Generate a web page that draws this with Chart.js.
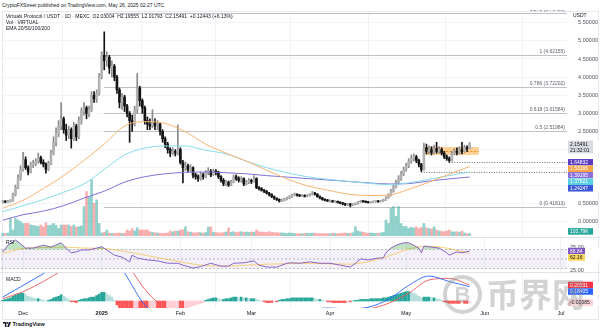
<!DOCTYPE html>
<html>
<head>
<meta charset="utf-8">
<script src="https://cdn.jsdelivr.net/npm/chart.js@4.4.1/dist/chart.umd.min.js"></script>
<style>
  html, body { margin: 0; padding: 0; width: 600px; height: 331px; overflow: hidden; background: #fff;
    font-family: "Liberation Sans", Arial, sans-serif; color: #131722; }
  canvas { position: absolute; left: 0; }
  .t { position: absolute; font-size: 5px; line-height: 6px; white-space: nowrap; color: #131722; }
  .sep { position: absolute; left: 0; width: 600px; height: 1px; background: #e0e3eb; }
  #frame { position: absolute; left: 2px; top: 11px; width: 595px; height: 307px; border: 1px solid #e6e8ee; }
  #wm-circle { position: absolute; left: 443px; top: 275px; width: 31px; height: 31px; border: 4px solid rgba(140,140,140,0.38);
    border-radius: 50%; color: rgba(140,140,140,0.38); font: 700 22px/31px "Liberation Sans", sans-serif; text-align: center; }
  #wm-text { position: absolute; left: 486px; top: 274px; font: 700 33px/38px "Noto Sans CJK SC", sans-serif; color: rgba(140,140,140,0.38); }
</style>
</head>
<body>
<div id="frame"></div>
<canvas id="price" width="600" height="227" style="top:10px"></canvas>
<canvas id="rsi" width="600" height="36" style="top:237px"></canvas>
<canvas id="macd" width="600" height="45" style="top:273px"></canvas>
<div class="sep" style="top:237px"></div>
<div class="sep" style="top:272px"></div>

<div class="t" style="left:2px;top:2px">CryptoFXStreet published on TradingView.com, May 26, 2025 02:27 UTC</div>
<div class="t" style="left:6px;top:13px">Virtuals Protocol / USDT · 1D · MEXC&nbsp;&nbsp;O2.03004&nbsp;&nbsp;H2.19555&nbsp;&nbsp;L2.01793&nbsp;&nbsp;C2.15491&nbsp;&nbsp;+0.12443 (+6.13%)</div>
<div class="t" style="left:6px;top:19px">Vol · VIRTUAL</div>
<div class="t" style="left:6px;top:25px">EMA 20/50/100/200</div>
<div class="t" style="left:6px;top:239px">RSI</div>
<div class="t" style="left:6px;top:276px">MACD</div>

<div id="wm-circle">B</div>
<div id="wm-text">币界网</div>

<div class="t" style="left:3px;top:321px;font-size:5.5px;font-weight:bold">
  <svg width="8" height="5" viewBox="0 0 8 5" style="vertical-align:-0.5px"><path d="M0 0h3.4v5H1.9V1.4H0z" fill="#131722"/><circle cx="4.5" cy="0.9" r="0.9" fill="#131722"/><path d="M6.1 0H8L6 5H4.2z" fill="#131722"/></svg>
  TradingView</div>

<script>
// ---- data (day 0 = 23 Nov 2024, one candle per day up to 26 May 2025) ----
const firstOpen = 0.55;
const closes = [0.56,0.55,0.57,0.58,0.75,0.95,1.2,1.45,1.72,1.5,
  1.38,1.58,1.62,1.68,1.78,1.65,1.6,1.45,1.62,1.9,
  2.2,2.45,2.65,2.85,2.55,2.4,2.55,2.3,2.65,2.35,
  2.8,3.05,3.15,3.0,3.1,3.5,3.4,3.55,4.0,4.6,
  4.45,4.55,4.25,4.3,4.0,3.65,3.3,3.45,3.2,3.0,
  2.8,2.7,3.1,3.7,3.35,3.15,2.8,2.7,2.65,2.75,
  2.65,2.7,2.5,2.3,2.15,2.0,1.9,1.95,1.9,2.0,
  1.65,1.5,1.55,1.45,1.5,1.3,1.25,1.2,1.3,1.25,
  1.35,1.4,1.3,1.4,1.38,1.25,1.15,1.05,1.1,1.02,
  1.1,1.25,1.2,1.15,1.2,1.05,1.1,1.15,1.12,1.2,
  0.95,0.92,0.88,0.85,0.8,0.76,0.7,0.65,0.62,0.58,
  0.6,0.63,0.66,0.7,0.74,0.77,0.74,0.72,0.73,0.71,
  0.73,0.76,0.8,0.77,0.7,0.66,0.62,0.6,0.58,0.58,
  0.56,0.57,0.54,0.52,0.5,0.48,0.5,0.47,0.49,0.5,
  0.55,0.57,0.56,0.55,0.54,0.55,0.56,0.57,0.56,0.58,
  0.6,0.67,0.75,0.85,0.97,1.1,1.2,1.32,1.45,1.55,
  1.68,1.75,1.8,1.7,1.6,1.45,2.05,1.95,2.0,1.92,
  2.02,1.95,2.0,1.9,1.8,1.75,1.7,1.88,1.95,1.92,
  2.0,1.95,2.05,2.03004,2.15491];
const highs = [0.6,0.59,0.6,0.62,0.8,1.02,1.3,1.55,1.92,1.8,
  1.55,1.65,1.7,1.75,1.9,1.82,1.72,1.63,1.68,1.98,
  2.35,2.6,2.8,3.3,2.9,2.7,2.65,2.6,2.75,2.7,
  2.9,3.15,3.3,3.2,3.2,3.6,3.6,3.65,4.1,4.7,
  5.25,4.7,4.6,4.45,4.35,4.05,3.7,3.55,3.5,3.25,
  3.05,2.95,3.2,4.1,3.75,3.4,3.2,2.9,2.85,3.1,
  2.85,2.8,2.75,2.55,2.35,2.2,2.05,2.05,2.0,2.68,
  2.05,1.7,1.65,1.6,1.58,1.52,1.35,1.3,1.38,1.35,
  1.42,1.5,1.45,1.46,1.45,1.4,1.28,1.2,1.15,1.13,
  1.15,1.3,1.3,1.25,1.25,1.22,1.15,1.2,1.18,1.28,
  1.22,0.98,0.95,0.9,0.87,0.82,0.78,0.72,0.67,0.64,
  0.63,0.66,0.69,0.73,0.77,0.8,0.78,0.76,0.76,0.75,
  0.76,0.79,0.84,0.82,0.78,0.72,0.68,0.64,0.62,0.61,
  0.6,0.59,0.58,0.56,0.54,0.52,0.52,0.51,0.51,0.53,
  0.57,0.6,0.59,0.58,0.57,0.57,0.58,0.59,0.59,0.6,
  0.63,0.7,0.78,0.9,1.02,1.15,1.28,1.4,1.52,1.62,
  1.75,1.85,1.88,1.84,1.74,1.62,2.18,2.15,2.1,2.08,
  2.12,2.2,2.08,2.05,1.95,1.85,1.8,1.95,2.02,2.05,
  2.08,2.2,2.12,2.1,2.19555];
const lows = [0.52,0.53,0.54,0.55,0.57,0.72,0.92,1.15,1.4,1.45,
  1.3,1.35,1.5,1.55,1.62,1.6,1.52,1.35,1.42,1.58,
  1.85,2.1,2.35,2.55,2.45,2.25,2.3,2.04,2.25,2.25,
  2.3,2.7,2.95,2.85,2.9,3.05,3.3,3.3,3.5,3.95,
  4.2,4.3,4.1,4.0,3.9,3.55,3.15,3.1,3.05,2.9,
  2.2,2.5,2.65,3.0,3.2,3.0,2.7,2.55,2.55,2.6,
  2.55,2.55,2.4,2.2,2.05,1.9,1.8,1.85,1.82,1.85,
  1.6,1.08,1.42,1.38,1.4,1.22,1.18,1.12,1.15,1.18,
  1.22,1.3,1.25,1.28,1.3,1.2,1.1,1.0,1.0,0.98,
  1.0,1.08,1.15,1.1,1.1,1.0,1.02,1.06,1.06,1.1,
  0.92,0.88,0.85,0.81,0.77,0.72,0.67,0.62,0.59,0.55,
  0.56,0.58,0.61,0.64,0.68,0.72,0.71,0.7,0.7,0.69,
  0.69,0.71,0.74,0.74,0.68,0.64,0.6,0.58,0.56,0.55,
  0.54,0.54,0.52,0.5,0.47,0.45,0.45,0.41813,0.45,0.47,
  0.49,0.53,0.54,0.53,0.52,0.52,0.53,0.54,0.54,0.55,
  0.56,0.59,0.65,0.72,0.82,0.94,1.05,1.15,1.28,1.4,
  1.5,1.62,1.68,1.64,1.52,1.39195,1.43,1.88,1.88,1.85,
  1.88,1.9,1.9,1.85,1.75,1.7,1.64832,1.68,1.85,1.85,
  1.88,1.88,1.92,1.95,2.01793];
// volume in thousands
const volumes = [110,100,120,700,240,710,640,570,500,500,
  510,440,420,400,380,440,370,530,420,440,
  500,430,300,440,440,440,440,380,440,350,
  370,400,1170,1770,1570,2240,1300,1440,500,120,
  150,240,110,100,100,110,120,100,110,240,
  200,300,200,330,240,240,240,240,170,150,
  130,120,110,100,110,120,200,170,190,200,
  240,250,370,170,150,130,120,150,130,120,
  140,360,360,150,130,130,120,140,160,320,
  150,170,140,160,170,150,160,140,160,150,
  240,170,160,150,140,170,150,130,140,120,
  130,110,100,120,110,100,90,100,90,100,
  110,100,120,110,100,90,100,90,100,90,
  110,100,90,100,110,120,110,100,130,370,
  200,170,150,130,110,120,110,100,110,120,
  150,640,500,1100,1170,780,1170,500,380,380,
  300,350,320,360,300,340,500,320,300,280,
  370,240,200,180,170,200,240,170,160,170,
  150,200,120,90,103.79];

const emaDays = [0,8,16,24,32,40,48,56,64,72,80,88,96,104,112,120,128,136,144,152,160,168,176,184];
const emaOrange = [0.38,0.6,0.92,1.28,1.7,2.15,2.65,2.77,2.72,2.49,2.15,1.9,1.68,1.43,1.19,1.0,0.88,0.77,0.73,0.74,0.9,1.1,1.32,1.53166];
const emaCyan = [0.28,0.45,0.62,0.82,1.05,1.45,1.85,2.04,2.1,2.1,1.98,1.88,1.68,1.5,1.36,1.25,1.18,1.12,1.07,1.03,1.08,1.18,1.28,1.37821];
const emaPurple = [0.05,0.2,0.3,0.45,0.66,0.85,1.1,1.25,1.33,1.37,1.38,1.36,1.33,1.28,1.24,1.2,1.16,1.12,1.08,1.05,1.06,1.13,1.19,1.24247];

const rsiDays = [0,2,5,7,9,12,16,19,23,25,27,29,31,34,37,39,41,44,47,50,51,53,57,61,65,69,71,75,78,82,86,89,91,95,99,101,104,108,112,114,117,121,125,129,133,137,139,141,144,148,150,151,153,155,158,160,162,164,165,166,169,172,175,176,179,181,184];
const rsiValues = [64.7,79,90,82,73,73,79,75,84,73,63,65,69,69,73,76,69,58,54,44,58,52,48,46,41,41,37,31,34,41,35,35,41,42,46,37,33,33,41,42,41,44,41,41,37,33,41,50,48,52,52,63,73,79,84,84,79,73,63,77,75,73,63,58,65,63,66.84];
const rsiMa = [62,72,74,75,73,72,66,58,50,42,36,35,37,39,40,41,40,39,44,56,71,77,72,62.16];

const macdLine = [0.05,0.2,0.35,0.5,0.62,0.72,0.36,-0.05,-0.2,-0.3,-0.32,-0.3,-0.25,-0.2,-0.16,-0.12,-0.09,-0.1,-0.08,0.02,0.2,0.32,0.25,0.18405];
const signalLine = [0.03,0.12,0.25,0.4,0.5,0.6,0.5,0.15,-0.1,-0.22,-0.28,-0.3,-0.28,-0.24,-0.2,-0.15,-0.12,-0.11,-0.1,-0.03,0.1,0.27,0.29,0.20531];
const macdHist = [0.01,0.02,0.03,0.04,0.06,0.08,0.09,0.1,0.1,0.08,
  0.06,0.05,0.04,0.03,0.03,0.02,0.01,0,0.01,0.02,
  0.04,0.05,0.06,0.08,0.06,0.04,0.02,-0.01,-0.01,-0.02,
  0.01,0.02,0.03,0.03,0.04,0.05,0.05,0.07,0.09,0.11,
  0.11,0.09,0.07,0.05,0.01,-0.05,-0.1,-0.12,-0.14,-0.16,
  -0.18,-0.19,-0.16,-0.12,-0.13,-0.15,-0.17,-0.18,-0.17,-0.15,
  -0.14,-0.15,-0.16,-0.17,-0.17,-0.16,-0.14,-0.12,-0.11,-0.1,
  -0.12,-0.13,-0.11,-0.09,-0.07,-0.06,-0.05,-0.04,-0.03,-0.02,
  0.01,0.02,0.03,0.04,0.04,0.03,0.02,0.02,0.03,0.03,
  0.04,0.05,0.05,0.04,0.05,0.04,0.04,0.03,0.03,0.03,
  0.02,0.01,0,-0.01,-0.02,-0.02,-0.02,-0.01,-0.01,0.01,
  0.02,0.02,0.03,0.03,0.04,0.04,0.04,0.04,0.04,0.04,
  0.04,0.04,0.04,0.03,0.02,0.02,0.01,0,-0.01,-0.01,
  -0.02,-0.02,-0.02,-0.02,-0.02,-0.02,-0.01,-0.01,0,0.01,
  0.01,0.02,0.02,0.02,0.02,0.03,0.03,0.03,0.03,0.03,
  0.04,0.04,0.05,0.06,0.07,0.08,0.09,0.1,0.11,0.12,
  0.12,0.11,0.1,0.08,0.06,0.04,0.05,0.05,0.05,0.04,
  0.04,0.03,0.02,0.01,-0.01,-0.02,-0.03,-0.03,-0.03,-0.03,
  -0.03,-0.02,-0.03,-0.03,-0.02085];

const monthDays = [8,39,70,98,129,159,190,220];
const monthLabels = ['Dec','2025','Feb','Mar','Apr','May','Jun','Jul'];
const priceTicks = [0,0.5,1,1.5,2,2.5,3,3.5,4,4.5,5,5.5];
const rsiTicks = [25,75];

// drawings on the chart
const fibLevels = ['1.272','1','0.786','0.618','0.5','0'];
const fibPrices = [5.76489,4.62155,3.72202,3.01584,2.51984,0.41813];
const fibStartDay = 40;
const levelPrices = [1.64832,1.39195];
const levelStartDays = [176,165];
const boxDays = [166.4,187.6];
const boxPrices = [1.85,2.07];
const lastVolumeText = '103.79K';
const countdown = '21:32:01';

// ---- setup ----
const FONT = '"Liberation Sans", Arial, sans-serif';
const xMin = -0.7, xMax = 222.4;
const days = closes.map((_, i) => i);
const opens = closes.map((c, i) => i === 0 ? firstOpen : closes[i - 1]);
const isUp = closes.map((c, i) => c >= opens[i]);
const last = closes.length - 1;

function pts(xs, ys) { return xs.map((d, k) => ({ x: d, y: ys[k] })); }

function xScale(showGrid) {
  return {
    type: 'linear', min: xMin, max: xMax, offset: false,
    afterBuildTicks: s => { s.ticks = monthDays.map(v => ({ value: v })); },
    ticks: { display: false },
    grid: { display: showGrid, color: '#f1f2f5', drawTicks: false },
    border: { display: false }
  };
}
function rightAxis(min, max, ticks, grid) {
  return {
    position: 'right', min, max,
    afterBuildTicks: s => { s.ticks = ticks.map(v => ({ value: v })); },
    ticks: { display: false },
    grid: { display: grid, color: '#f3f4f7', drawTicks: false },
    border: { display: false },
    afterFit: s => { s.width = 33; }
  };
}

function tag(ctx, x, yc, w, h, bg, fg, text) {
  ctx.fillStyle = '#fff';
  ctx.fillRect(x - 1, yc - h / 2, 600 - x + 1, h);
  ctx.fillStyle = bg;
  ctx.fillRect(x, yc - h / 2, w, h);
  ctx.fillStyle = fg;
  ctx.font = '5px ' + FONT;
  ctx.textAlign = 'left';
  ctx.textBaseline = 'middle';
  ctx.fillText(text, x + 2, yc + 0.3);
}
// push overlapping tags down like the price scale does
function stack(items, h) {
  items.sort((a, b) => a.y - b.y);
  let prev = -Infinity;
  items.forEach(it => { it.y = Math.max(it.y, prev + h); prev = it.y; });
  return items;
}

const baseOpts = {
  responsive: false, animation: false, devicePixelRatio: 1,
  plugins: { legend: { display: false }, tooltip: { enabled: false } }
};

// ---- price pane ----
const priceDecor = {
  id: 'priceDecor',
  beforeDatasetsDraw(chart) {
    const { ctx, chartArea: a, scales: { x, y } } = chart;
    ctx.save();
    // range box
    const bx0 = x.getPixelForValue(boxDays[0]), bx1 = x.getPixelForValue(boxDays[1]);
    const bt = y.getPixelForValue(boxPrices[1]), bb = y.getPixelForValue(boxPrices[0]);
    ctx.fillStyle = 'rgba(255,172,64,0.55)';
    ctx.fillRect(bx0, bt, bx1 - bx0, bb - bt);
    const mid = Math.round((bt + bb) / 2) + 0.5;
    ctx.strokeStyle = '#ef7d00'; ctx.lineWidth = 0.8; ctx.setLineDash([2, 1.5]);
    ctx.beginPath(); ctx.moveTo(bx0, mid); ctx.lineTo(bx1, mid); ctx.stroke();
    // fib retracement
    ctx.setLineDash([]);
    const fx = x.getPixelForValue(fibStartDay);
    fibPrices.forEach((p, k) => {
      const py = Math.round(y.getPixelForValue(p)) + 0.5;
      ctx.strokeStyle = '#bfc1c7'; ctx.lineWidth = 1;
      ctx.beginPath(); ctx.moveTo(fx, py); ctx.lineTo(a.right, py); ctx.stroke();
      ctx.fillStyle = '#5d606b'; ctx.font = '5px ' + FONT;
      ctx.textAlign = 'right'; ctx.textBaseline = 'bottom';
      ctx.fillText(fibLevels[k] + ' (' + p.toFixed(5) + ')', a.right - 2, py - 1.5);
    });
    // horizontal level rays
    ctx.strokeStyle = '#4a4a4a'; ctx.lineWidth = 0.8; ctx.setLineDash([1, 1.5]);
    levelPrices.forEach((p, k) => {
      const py = Math.round(y.getPixelForValue(p)) + 0.5;
      ctx.beginPath(); ctx.moveTo(x.getPixelForValue(levelStartDays[k]), py); ctx.lineTo(a.right, py); ctx.stroke();
    });
    ctx.restore();
  },
  afterDraw(chart) {
    const { ctx, scales: { y, yv } } = chart;
    ctx.save();
    ctx.font = '5.5px ' + FONT; ctx.fillStyle = '#50535e';
    ctx.textAlign = 'right'; ctx.textBaseline = 'middle';
    priceTicks.forEach(v => ctx.fillText(v.toFixed(5), 598, y.getPixelForValue(v)));
    ctx.textAlign = 'left';
    ctx.font = '5px ' + FONT; ctx.fillStyle = '#131722';
    ctx.fillText('USDT', 573, 6);
    const tags = stack([
      { y: y.getPixelForValue(levelPrices[0]), bg: '#5b3cc0', t: levelPrices[0].toFixed(5) },
      { y: y.getPixelForValue(emaOrange[emaOrange.length - 1]), bg: '#f6a546', t: emaOrange[emaOrange.length - 1].toFixed(5) },
      { y: y.getPixelForValue(levelPrices[1]), bg: '#8c6fd8', t: levelPrices[1].toFixed(5) },
      { y: y.getPixelForValue(emaCyan[emaCyan.length - 1]), bg: '#58cfe2', t: emaCyan[emaCyan.length - 1].toFixed(5) },
      { y: y.getPixelForValue(emaPurple[emaPurple.length - 1]), bg: '#3b57d6', t: emaPurple[emaPurple.length - 1].toFixed(5) }
    ], 6.5);
    tags.forEach(it => tag(ctx, 568, it.y, 25, 6.5, it.bg, '#fff', it.t));
    // last price with countdown
    const py = y.getPixelForValue(closes[last]);
    ctx.fillStyle = '#fff';
    ctx.fillRect(567, py - 3.5, 33, 13);
    ctx.fillStyle = '#d9dbe0';
    ctx.fillRect(568, py - 3.3, 25, 12.6);
    ctx.fillStyle = '#131722'; ctx.font = '5px ' + FONT; ctx.textBaseline = 'middle';
    ctx.fillText(closes[last].toFixed(5), 570, py + 0.3);
    ctx.fillText(countdown, 570, py + 6.3);
    // last volume
    tag(ctx, 568, yv.getPixelForValue(volumes[last]) - 2, 25, 6.5, '#26a69a', '#fff', lastVolumeText);
    ctx.restore();
  }
};

new Chart(document.getElementById('price'), {
  type: 'bar',
  data: {
    datasets: [
      { type: 'line', data: pts(emaDays, emaOrange), borderColor: '#f7b46f', borderWidth: 1, pointRadius: 0, cubicInterpolationMode: 'monotone', order: 0 },
      { type: 'line', data: pts(emaDays, emaCyan), borderColor: '#86dde9', borderWidth: 1, pointRadius: 0, cubicInterpolationMode: 'monotone', order: 0 },
      { type: 'line', data: pts(emaDays, emaPurple), borderColor: '#7f72d8', borderWidth: 1, pointRadius: 0, cubicInterpolationMode: 'monotone', order: 0 },
      { data: days.map(i => ({ x: i, y: [opens[i], closes[i]] })), backgroundColor: isUp.map(u => u ? '#b3b3b3' : '#141414'),
        barThickness: 2, minBarLength: 1, grouped: false, order: 1 },
      { data: days.map(i => ({ x: i, y: [lows[i], highs[i]] })), backgroundColor: isUp.map(u => u ? '#8a8a8a' : '#141414'),
        barThickness: 1, grouped: false, order: 2 },
      { data: days.map(i => ({ x: i, y: volumes[i] })), yAxisID: 'yv',
        backgroundColor: isUp.map(u => u ? 'rgba(38,166,154,0.5)' : 'rgba(239,83,80,0.45)'),
        barThickness: 2, grouped: false, order: 3 }
    ]
  },
  options: {
    ...baseOpts,
    layout: { padding: { left: 1, right: 0, top: 3, bottom: 1 } },
    scales: {
      x: { ...xScale(true), afterFit: s => { s.height = 0; } },
      y: rightAxis(-0.387, 5.77, priceTicks, true),
      yv: { display: false, min: 0, max: 8880 }
    }
  },
  plugins: [priceDecor]
});

// ---- RSI pane ----
const rsiDecor = {
  id: 'rsiDecor',
  beforeDatasetsDraw(chart) {
    const { ctx, chartArea: a, scales: { y } } = chart;
    ctx.save();
    ctx.fillStyle = 'rgba(126,87,194,0.09)';
    ctx.fillRect(a.left, y.getPixelForValue(70), a.right - a.left, y.getPixelForValue(30) - y.getPixelForValue(70));
    ctx.strokeStyle = '#9598a1'; ctx.lineWidth = 0.6; ctx.setLineDash([2, 2]);
    [70, 50, 30].forEach(v => {
      const py = y.getPixelForValue(v);
      ctx.beginPath(); ctx.moveTo(a.left, py); ctx.lineTo(a.right, py); ctx.stroke();
    });
    ctx.restore();
  },
  afterDraw(chart) {
    const { ctx, scales: { y } } = chart;
    ctx.save();
    ctx.font = '5.5px ' + FONT; ctx.fillStyle = '#50535e'; ctx.textAlign = 'left'; ctx.textBaseline = 'middle';
    rsiTicks.forEach(v => ctx.fillText(v.toFixed(2), 570, y.getPixelForValue(v)));
    const tags = stack([
      { y: y.getPixelForValue(rsiValues[rsiValues.length - 1]), bg: '#7e57c2', fg: '#fff', t: rsiValues[rsiValues.length - 1].toFixed(2) },
      { y: y.getPixelForValue(rsiMa[rsiMa.length - 1]), bg: '#f9d65c', fg: '#131722', t: rsiMa[rsiMa.length - 1].toFixed(2) }
    ], 6.5);
    tags.forEach(it => tag(ctx, 568, it.y, 17, 6.5, it.bg, it.fg, it.t));
    ctx.restore();
  }
};

new Chart(document.getElementById('rsi'), {
  type: 'line',
  data: {
    datasets: [
      { data: pts(rsiDays, rsiValues), borderColor: '#7e57c2', borderWidth: 0.9, pointRadius: 0, tension: 0,
        fill: { target: { value: 70 }, above: 'rgba(76,175,80,0.35)', below: 'rgba(0,0,0,0)' } },
      { data: pts(emaDays, rsiMa), borderColor: '#f7c96a', borderWidth: 0.9, pointRadius: 0, cubicInterpolationMode: 'monotone', fill: false }
    ]
  },
  options: {
    ...baseOpts,
    layout: { padding: { left: 1, right: 0, top: 0, bottom: 0 } },
    scales: {
      x: { ...xScale(true), afterFit: s => { s.height = 0; } },
      y: rightAxis(20.5, 96.3, rsiTicks, false)
    }
  },
  plugins: [rsiDecor]
});

// ---- MACD pane + time axis ----
const histColors = macdHist.map((h, i) => {
  const p = i ? macdHist[i - 1] : 0;
  if (h >= 0) return h >= p ? '#26a69a' : '#b2dfdb';
  return h <= p ? '#ff5252' : '#ffcdd2';
});

const macdDecor = {
  id: 'macdDecor',
  afterDraw(chart) {
    const { ctx, chartArea: a, scales: { x, y } } = chart;
    ctx.save();
    const tags = stack([
      { y: y.getPixelForValue(signalLine[signalLine.length - 1]), bg: '#f23645', fg: '#fff', t: signalLine[signalLine.length - 1].toFixed(5) },
      { y: y.getPixelForValue(macdLine[macdLine.length - 1]), bg: '#2962ff', fg: '#fff', t: macdLine[macdLine.length - 1].toFixed(5) },
      { y: y.getPixelForValue(macdHist[last]), bg: '#fcd5d8', fg: '#131722', t: macdHist[last].toFixed(5) }
    ], 6.5);
    tags.forEach(it => tag(ctx, 568, it.y, 25, 6.5, it.bg, it.fg, it.t));
    ctx.textAlign = 'center'; ctx.textBaseline = 'middle'; ctx.fillStyle = '#131722';
    monthDays.forEach((d, k) => {
      ctx.font = (monthLabels[k] === '2025' ? 'bold ' : '') + '5.5px ' + FONT;
      ctx.fillText(monthLabels[k], x.getPixelForValue(d), a.bottom + 5);
    });
    ctx.restore();
  }
};

new Chart(document.getElementById('macd'), {
  type: 'bar',
  data: {
    datasets: [
      { type: 'line', data: pts(emaDays, macdLine), borderColor: '#2962ff', borderWidth: 0.9, pointRadius: 0, cubicInterpolationMode: 'monotone', order: 0 },
      { type: 'line', data: pts(emaDays, signalLine), borderColor: '#ef5a5a', borderWidth: 0.9, pointRadius: 0, cubicInterpolationMode: 'monotone', order: 0 },
      { data: days.map(i => ({ x: i, y: macdHist[i] })), backgroundColor: histColors, barThickness: 2, grouped: false, order: 1 }
    ]
  },
  options: {
    ...baseOpts,
    layout: { padding: { left: 1, right: 0, top: 0, bottom: 0 } },
    scales: {
      x: { ...xScale(true), afterFit: s => { s.height = 10; } },
      y: rightAxis(-0.0897, 0.359, [], false)
    }
  },
  plugins: [macdDecor]
});
</script>
</body>
</html>
